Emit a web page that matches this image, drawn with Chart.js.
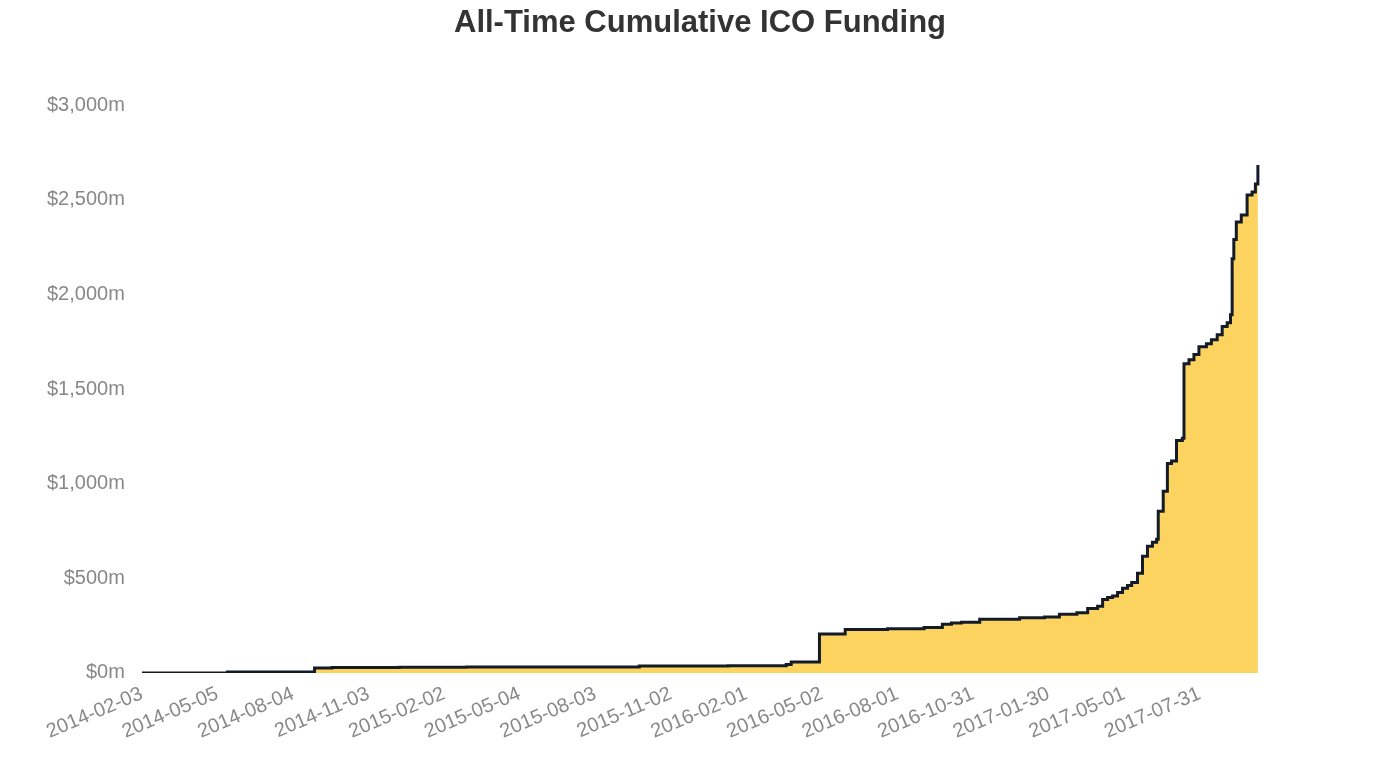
<!DOCTYPE html>
<html>
<head>
<meta charset="utf-8">
<title>All-Time Cumulative ICO Funding</title>
<script src="https://cdn.jsdelivr.net/npm/chart.js@4.4.1/dist/chart.umd.min.js"></script>
<style>
  html, body { margin: 0; padding: 0; background: #fff; }
  #wrap { width: 1400px; height: 776px; }
</style>
</head>
<body>
<div id="wrap"><canvas id="chart"></canvas></div>
<script>
// funding event dates and running total (USD millions)
const fundingDates = [
  '2014-02-03', '2014-05-17', '2014-08-30', '2014-09-20', '2014-12-10',
  '2015-03-01', '2015-05-04', '2015-09-25', '2016-01-10', '2016-03-20',
  '2016-03-26', '2016-04-29', '2016-05-30', '2016-07-20', '2016-09-02',
  '2016-09-24', '2016-10-05', '2016-10-17', '2016-11-08', '2016-12-26',
  '2017-01-25', '2017-02-12', '2017-03-05', '2017-03-18', '2017-03-30',
  '2017-04-05', '2017-04-11', '2017-04-17', '2017-04-23', '2017-04-29',
  '2017-05-05', '2017-05-10', '2017-05-17', '2017-05-23', '2017-05-29',
  '2017-06-04', '2017-06-09', '2017-06-11', '2017-06-17', '2017-06-22',
  '2017-06-27', '2017-07-03', '2017-07-10', '2017-07-12', '2017-07-18',
  '2017-07-24', '2017-07-30', '2017-08-08', '2017-08-14', '2017-08-21',
  '2017-08-27', '2017-09-02', '2017-09-06', '2017-09-08', '2017-09-10',
  '2017-09-13', '2017-09-19', '2017-09-26', '2017-10-02', '2017-10-06',
  '2017-10-09'
];
const fundingTotals = [
  0, 5, 26, 29, 30,
  31, 32, 36, 38, 44,
  58, 206, 230, 233, 240,
  257, 264, 268, 284, 292,
  296, 310, 318, 340, 352,
  388, 398, 406, 425, 448,
  462, 478, 527, 617, 670,
  690, 706, 854, 960, 1107,
  1120, 1228, 1240, 1634, 1655,
  1682, 1724, 1740, 1761, 1787,
  1830, 1850, 1893, 2188, 2290,
  2383, 2420, 2525, 2541, 2583,
  2684
];
const startDate = '2014-02-03';
const tickStepDays = 91;           // one label every 13 weeks
const axisEndDays = 1479;          // empty room right of the data, keeps title centred
const yTicks = [0, 500, 1000, 1500, 2000, 2500, 3000];

const DAY = 86400000;
const t0 = Date.parse(startDate);
const toDay = (d) => Math.round((Date.parse(d) - t0) / DAY);
const toDate = (n) => new Date(t0 + n * DAY).toISOString().slice(0, 10);

const points = fundingDates.map((d, i) => ({ x: toDay(d), y: fundingTotals[i] }));
const lastDay = points[points.length - 1].x;

const font = "'Liberation Sans', Arial, Helvetica, sans-serif";

new Chart(document.getElementById('chart'), {
  type: 'line',
  data: {
    datasets: [{
      label: 'Cumulative funding',
      data: points,
      stepped: true,
      borderColor: '#121b27',
      borderWidth: 3,
      backgroundColor: '#fcd35f',
      fill: 'origin',
      pointRadius: 0,
    }],
  },
  options: {
    responsive: true,
    maintainAspectRatio: false,
    animation: false,
    layout: { padding: { left: 30, right: 30, top: 0, bottom: 23 } },
    plugins: {
      legend: { display: false },
      tooltip: { enabled: false },
      title: {
        display: true,
        text: 'All-Time Cumulative ICO Funding',
        color: '#333',
        font: { family: font, size: 31, weight: 'bold' },
        padding: { top: 5, bottom: 63 },
      },
    },
    scales: {
      x: {
        type: 'linear',
        min: 0,
        max: axisEndDays,
        grid: { display: false, drawTicks: false },
        border: { display: false },
        afterBuildTicks: (axis) => {
          axis.ticks = axis.ticks.filter((t) => t.value <= lastDay);
        },
        ticks: {
          stepSize: tickStepDays,
          includeBounds: false,
          autoSkip: false,
          minRotation: 23,
          maxRotation: 23,
          padding: 9,
          color: '#888',
          font: { family: font, size: 20 },
          callback: (v) => toDate(v),
        },
      },
      y: {
        min: yTicks[0],
        max: yTicks[yTicks.length - 1],
        grid: { display: false, drawTicks: false },
        border: { display: false },
        afterBuildTicks: (axis) => { axis.ticks = yTicks.map((v) => ({ value: v })); },
        ticks: {
          padding: 17,
          color: '#888',
          font: { family: font, size: 20 },
          callback: (v) => '$' + v.toLocaleString('en-US') + 'm',
        },
      },
    },
  },
});
</script>
</body>
</html>
